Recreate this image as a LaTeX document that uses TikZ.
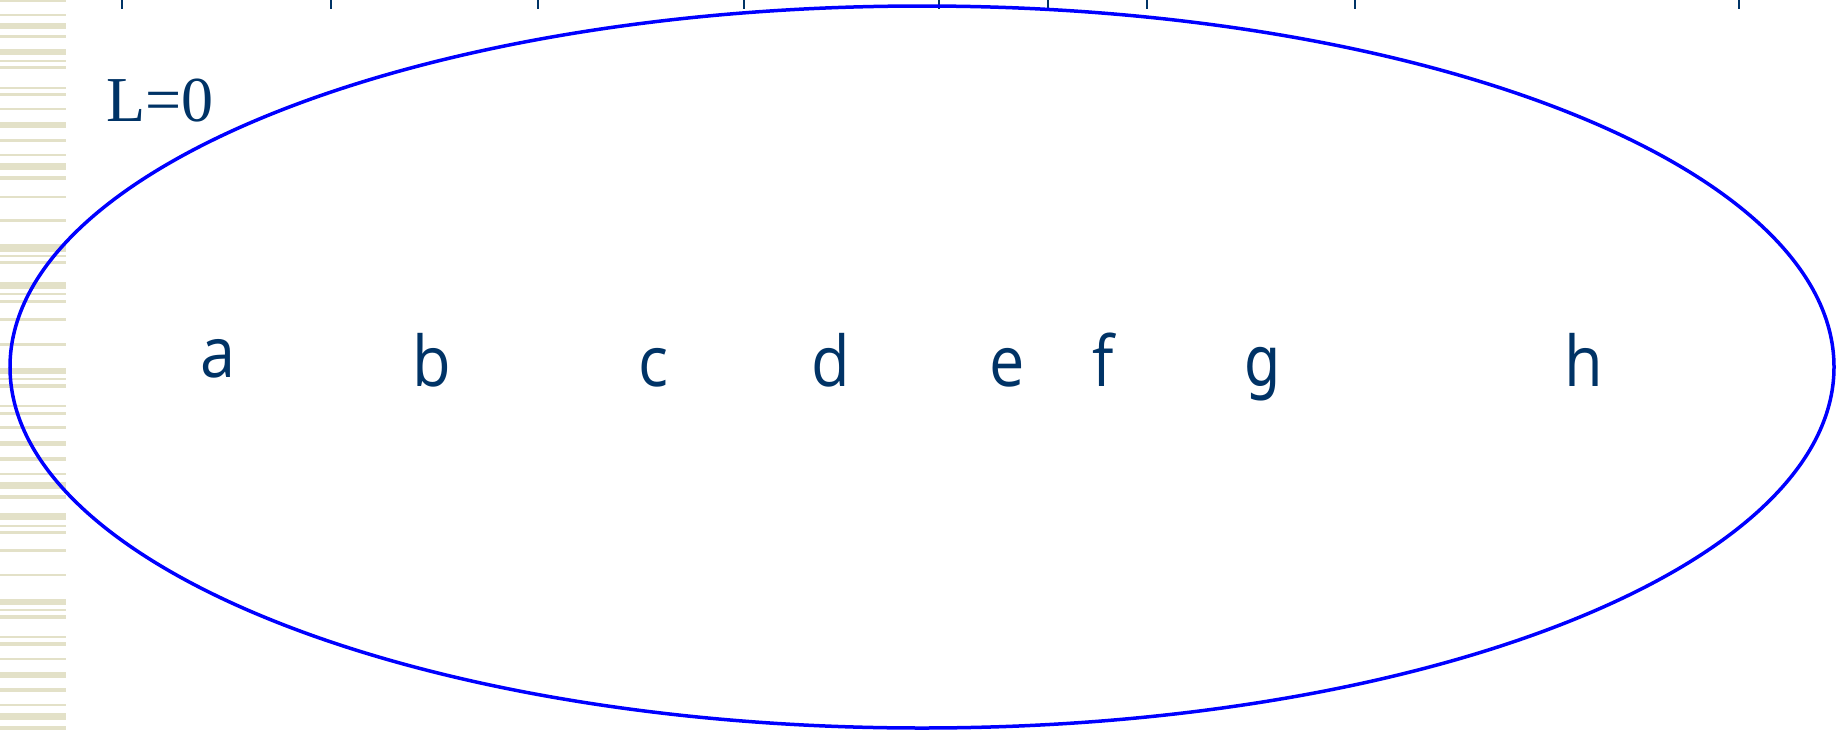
\documentclass[tikz,border=0pt]{standalone}
\usepackage{fontspec}
\setmainfont{Liberation Serif}
\newfontfamily\lettfont[FakeStretch=0.9]{Open Sans}
\newfontfamily\gfont[FakeStretch=0.82]{DejaVu Sans}
\definecolor{txtblue}{HTML}{003366}
\definecolor{ellblue}{HTML}{0000FF}
\definecolor{stripe}{HTML}{E3E1C8}
\tikzset{
  letter/.style={anchor=base, inner sep=0pt, text=txtblue, font=\lettfont\fontsize{70}{84}\selectfont},
  tick/.style={draw=txtblue, line width=1.5pt},
  bar/.style={fill=stripe, draw=none},
  outline/.style={draw=ellblue, line width=3.5pt}
}
\begin{document}
\begin{tikzpicture}[x=1pt,y=-1pt]
\useasboundingbox (0,0) rectangle (1846,731);
\fill[white] (0,0) rectangle (1846,731);
% left stripes
\foreach \a/\b in {0/2,14/15.5,23/29,35/38,49/55,60/62,66/69,87/88.5,93/96,108/110,122/128,139/142,154/156,163/170,176/180,196/198,219/222,244/252,255/257,261/264,282/289,293/295,300/303,318/321,343/346,368/374,378/379.5,384/388,405/407,412/415,426/429,441/446,457/461,473/475,482/489,495/499,513/520,525/527,531/534,549/552,574/576,599/605,609/611,615/619,636/638,642/646,658/660,672/678,688/692,704/706,713/720,726/730}
  {\path[bar] (0,\a) rectangle (66,\b);}
% top ticks
\foreach \x in {122,331,538,744,939,1048,1147,1355,1739}
  {\draw[tick] (\x,0) -- (\x,9);}
% ellipse
\draw[outline] (922,367) ellipse [x radius=912, y radius=361];
% label
\node[anchor=base west, inner sep=0pt, text=txtblue, font=\fontsize{64}{76}\selectfont] (L) at (106,121) {L=0};
% letters
\node[letter] (a) at (218,377) {a};
\node[letter] (b) at (432,386) {b};
\node[letter] (c) at (653,386) {c};
\node[letter] (d) at (831,386) {d};
\node[letter] (e) at (1007,386) {e};
\node[letter] (f) at (1103,386) {f};
\node[letter, font=\gfont\fontsize{70}{84}\selectfont] (g) at (1263,386) {g};
\node[letter] (h) at (1584,386) {h};
\end{tikzpicture}
\end{document}
